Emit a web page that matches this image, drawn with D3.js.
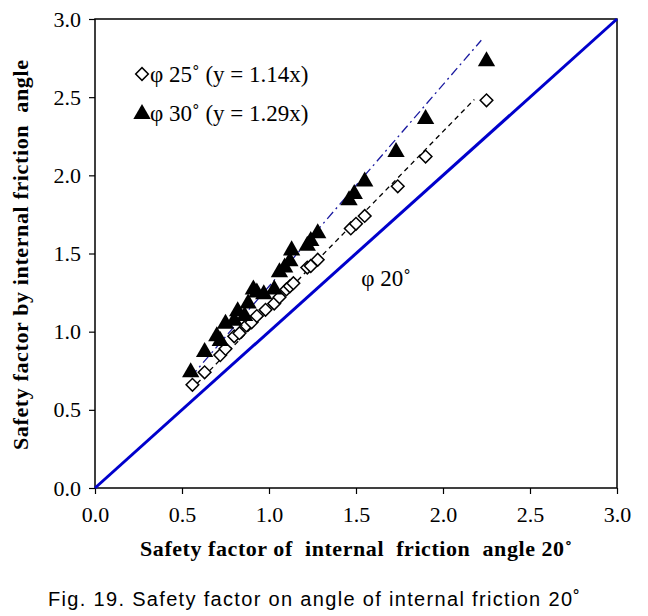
<!DOCTYPE html>
<html>
<head>
<meta charset="utf-8">
<script src="https://cdn.jsdelivr.net/npm/d3@7"></script>
<style>
  body { margin: 0; background: #fff; }
</style>
</head>
<body>
<div id="chart"></div>
<script>
// data
const xTicks = [0.0, 0.5, 1.0, 1.5, 2.0, 2.5, 3.0];
const yTicks = [0.0, 0.5, 1.0, 1.5, 2.0, 2.5, 3.0];

const phi25X = [0.56, 0.63, 0.72, 0.75, 0.80, 0.83, 0.87, 0.90, 0.93, 0.98, 1.03, 1.06, 1.10, 1.12, 1.14, 1.22, 1.24, 1.28, 1.47, 1.50, 1.55, 1.74, 1.90, 2.25];
const phi25Y = [0.66, 0.74, 0.85, 0.89, 0.97, 0.99, 1.04, 1.06, 1.10, 1.14, 1.18, 1.22, 1.27, 1.29, 1.31, 1.41, 1.42, 1.46, 1.66, 1.69, 1.74, 1.93, 2.12, 2.48];

const phi30X = [0.55, 0.63, 0.70, 0.72, 0.75, 0.80, 0.82, 0.86, 0.88, 0.91, 0.93, 0.97, 1.03, 1.06, 1.09, 1.12, 1.13, 1.22, 1.24, 1.28, 1.46, 1.49, 1.55, 1.73, 1.90, 2.25];
const phi30Y = [0.74, 0.87, 0.97, 0.94, 1.05, 1.07, 1.13, 1.10, 1.18, 1.27, 1.25, 1.24, 1.27, 1.38, 1.41, 1.45, 1.52, 1.55, 1.58, 1.63, 1.84, 1.88, 1.96, 2.15, 2.36, 2.73];

const fit25 = { slope: 1.14, from: 0.55, to: 2.18 };
const fit30 = { slope: 1.29, from: 0.55, to: 2.22 };

const width = 648, height = 616;
const margin = { left: 95, right: 31, top: 19, bottom: 128 };
const serif = "Liberation Serif";

const svg = d3.select("#chart").append("svg")
    .attr("width", width)
    .attr("height", height);

const x = d3.scaleLinear().domain([0, 3]).range([margin.left, width - margin.right]);
const y = d3.scaleLinear().domain([0, 3]).range([height - margin.bottom, margin.top]);

// axes
const xAxis = svg.append("g")
    .attr("transform", `translate(0,${y(0)})`)
    .call(d3.axisBottom(x).tickValues(xTicks).tickFormat(d3.format(".1f")).tickSize(6).tickPadding(10));
const yAxis = svg.append("g")
    .attr("transform", `translate(${x(0)},0)`)
    .call(d3.axisLeft(y).tickValues(yTicks).tickFormat(d3.format(".1f")).tickSize(6).tickPadding(8));

[xAxis, yAxis].forEach(g => {
    g.attr("font-family", serif).attr("font-size", 22);
    g.select(".domain").remove();
    g.selectAll("line").attr("stroke", "#000").attr("stroke-width", 1.2);
    g.selectAll("text").attr("fill", "#000");
});
xAxis.selectAll("text").attr("dy", "0.8em");

// frame
svg.append("rect")
    .attr("x", x(0)).attr("y", y(3))
    .attr("width", x(3) - x(0)).attr("height", y(0) - y(3))
    .attr("fill", "none").attr("stroke", "#000").attr("stroke-width", 1.5);

// 1:1 line (phi 20)
svg.append("line")
    .attr("x1", x(0)).attr("y1", y(0)).attr("x2", x(3)).attr("y2", y(3))
    .attr("stroke", "#0000cc").attr("stroke-width", 3);

// fit lines
svg.append("line")
    .attr("x1", x(fit30.from)).attr("y1", y(fit30.from * fit30.slope))
    .attr("x2", x(fit30.to)).attr("y2", y(fit30.to * fit30.slope))
    .attr("stroke", "#1a1aa0").attr("stroke-width", 1.3)
    .attr("stroke-dasharray", "9,4,2,4");

svg.append("line")
    .attr("x1", x(fit25.from)).attr("y1", y(fit25.from * fit25.slope))
    .attr("x2", x(fit25.to)).attr("y2", y(fit25.to * fit25.slope))
    .attr("stroke", "#000").attr("stroke-width", 1.3)
    .attr("stroke-dasharray", "5,4");

const diamond = d3.symbol().type(d3.symbolSquare).size(80);
const triangle = d3.symbol().type(d3.symbolTriangle).size(130);

// phi 25 diamonds
svg.append("g").selectAll("path")
    .data(phi25X.map((v, i) => [v, phi25Y[i]]))
    .enter().append("path")
    .attr("d", diamond)
    .attr("transform", d => `translate(${x(d[0])},${y(d[1])}) rotate(45)`)
    .attr("fill", "#fff").attr("stroke", "#000").attr("stroke-width", 1.5);

// phi 30 triangles
svg.append("g").selectAll("path")
    .data(phi30X.map((v, i) => [v, phi30Y[i]]))
    .enter().append("path")
    .attr("d", triangle)
    .attr("transform", d => `translate(${x(d[0])},${y(d[1])})`)
    .attr("fill", "#000");

// legend
const legend = svg.append("g").attr("font-family", serif).attr("font-size", 23);
legend.append("path").attr("d", diamond)
    .attr("transform", "translate(142,74) rotate(45)")
    .attr("fill", "#fff").attr("stroke", "#000").attr("stroke-width", 1.5);
legend.append("text").attr("x", 150).attr("y", 82)
    .text("φ 25˚ (y = 1.14x)");
legend.append("path").attr("d", triangle)
    .attr("transform", "translate(142,114)").attr("fill", "#000");
legend.append("text").attr("x", 150).attr("y", 121)
    .text("φ 30˚ (y = 1.29x)");

svg.append("text").attr("x", 386).attr("y", 286)
    .attr("text-anchor", "middle")
    .attr("font-family", serif).attr("font-size", 23)
    .text("φ 20˚");

// axis titles
svg.append("text")
    .attr("x", 140).attr("y", 556)
    .attr("textLength", 432)
    .attr("font-family", serif).attr("font-size", 22).attr("font-weight", "bold")
    .attr("xml:space", "preserve")
    .text("Safety factor of  internal  friction  angle 20˚");

svg.append("text")
    .attr("transform", "translate(28,450) rotate(-90)")
    .attr("textLength", 390)
    .attr("font-family", serif).attr("font-size", 22).attr("font-weight", "bold")
    .attr("xml:space", "preserve")
    .text("Safety factor by internal friction  angle");

// caption
svg.append("text")
    .attr("x", 48).attr("y", 606)
    .attr("textLength", 532)
    .attr("font-family", "Liberation Sans")
    .attr("font-size", 20)
    .text("Fig. 19. Safety factor on angle of internal friction 20˚");
</script>
</body>
</html>
